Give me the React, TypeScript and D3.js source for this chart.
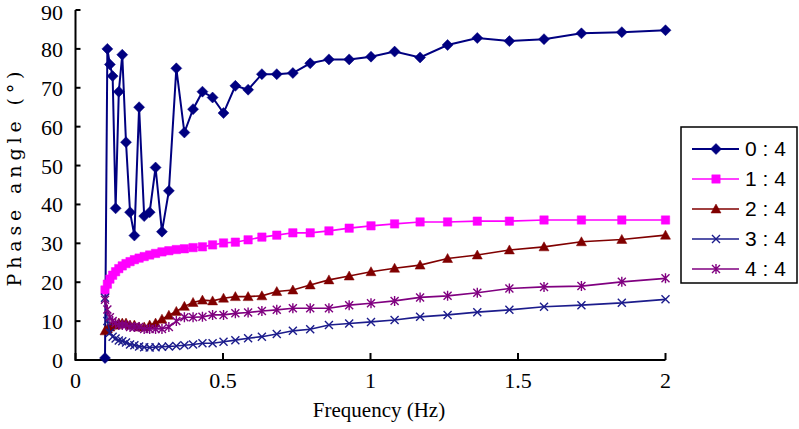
import React, { useEffect, useRef } from "react";
import * as d3 from "d3";

// frequency points (Hz), shared by every series
const freq = [0.1, 0.108, 0.1166, 0.1259, 0.136, 0.1468, 0.1585, 0.1712, 0.1849, 0.1996,
  0.2156, 0.2328, 0.2514, 0.2714, 0.2931, 0.3165, 0.3418, 0.3691, 0.3985, 0.4303,
  0.4647, 0.5018, 0.5419, 0.5851, 0.6318, 0.6823, 0.7368, 0.7956, 0.8591, 0.9277,
  1.0017, 1.0817, 1.1681, 1.2613, 1.362, 1.4708, 1.5882, 1.715, 1.8519, 2.0];

const ratio04 = [0.5, 80, 76, 73, 39, 69, 78.5, 56, 38, 32, 65, 37, 38, 49.5, 33, 43.5, 75, 58.5, 64.5, 69,
  67.5, 63.5, 70.5, 69.5, 73.5, 73.5, 73.8, 76.3, 77.3, 77.3, 78, 79.3, 77.8, 81, 82.8, 82, 82.5, 84, 84.3, 84.8];
const ratio14 = [18, 19.5, 20.8, 21.8, 22.7, 23.5, 24.2, 24.8, 25.3, 25.8, 26.2, 26.6, 27, 27.4, 27.8, 28.1, 28.4, 28.6, 28.9, 29.1,
  29.6, 30.1, 30.3, 30.9, 31.6, 32.1, 32.7, 32.7, 33.2, 33.9, 34.5, 35, 35.5, 35.5, 35.7, 35.7, 36, 36, 36, 36];
const ratio24 = [7.5, 8, 8.5, 9, 9, 9.5, 9.5, 9.5, 9, 9, 8.5, 8.5, 9, 9.5, 10.5, 11.5, 12.5, 13.8, 14.8, 15.4,
  15.2, 15.9, 16.3, 16.3, 16.5, 17.6, 18, 19.3, 20.6, 21.6, 22.7, 23.6, 24.4, 26.1, 27, 28.3, 29.1, 30.4, 31, 32.1];
const ratio34 = [16, 10, 7, 6, 5.5, 5, 4.8, 4.5, 4, 3.8, 3.5, 3.3, 3.2, 3.3, 3.4, 3.5, 3.6, 3.8, 4, 4.3,
  4.3, 4.7, 5.1, 5.6, 6, 6.7, 7.5, 7.9, 9, 9.4, 9.8, 10.3, 11.1, 11.6, 12.3, 12.9, 13.7, 14.1, 14.7, 15.6];
const ratio44 = [15.5, 13, 11, 10, 9.5, 9, 9, 9, 8.5, 8.5, 8.5, 8, 8, 8, 8, 8.5, 10, 11, 11, 11.1,
  11.6, 11.6, 12, 12.2, 12.6, 12.9, 13.3, 13.3, 13.3, 14.1, 14.6, 15.2, 16.1, 16.5, 17.3, 18.4, 18.8, 19, 20.1, 21];

const seriesNames = ["0 : 4", "1 : 4", "2 : 4", "3 : 4", "4 : 4"];
const seriesValues = [ratio04, ratio14, ratio24, ratio34, ratio44];
const seriesColors = ["#000080", "#ff00ff", "#800000", "#1c1c8c", "#800080"];
const seriesMarkers = ["diamond", "square", "triangle", "x", "star"];

const xTicks = [0, 0.5, 1, 1.5, 2];
const yTicks = [0, 10, 20, 30, 40, 50, 60, 70, 80, 90];

// marker path for each kind, centred at 0,0
function markerPath(kind) {
  if (kind === "diamond") return "M0,-5.5L5.5,0L0,5.5L-5.5,0Z";
  if (kind === "square") return "M-4.2,-4.2H4.2V4.2H-4.2Z";
  if (kind === "triangle") return "M0,-5L5,4L-5,4Z";
  if (kind === "x") return "M-4,-4L4,4M-4,4L4,-4";
  return "M-4,-4L4,4M-4,4L4,-4M0,-5V5";
}

export default function App() {
  const ref = useRef(null);

  useEffect(() => {
    document.body.style.margin = "0";
    var svg = d3.select(ref.current);
    svg.selectAll("*").remove();

    var x = d3.scaleLinear().domain([0, 2]).range([75.5, 665.5]);
    var y = d3.scaleLinear().domain([0, 90]).range([360, 10]);

    // axes
    var axes = svg.append("g").attr("stroke", "#000").attr("stroke-width", 2).attr("fill", "none");
    axes.append("path").attr("d", "M" + x(0) + "," + y(90) + "V" + y(0) + "H" + x(2));
    yTicks.forEach(function (t) {
      axes.append("line").attr("x1", x(0)).attr("x2", x(0) + 5).attr("y1", y(t)).attr("y2", y(t));
    });
    xTicks.forEach(function (t) {
      axes.append("line").attr("x1", x(t)).attr("x2", x(t)).attr("y1", y(0)).attr("y2", y(0) - 7);
    });

    var tickFont = "'Liberation Serif', serif";
    // top label would run off the page, so keep its baseline low enough
    svg.selectAll("yLabels").data(yTicks).enter().append("text")
      .attr("x", 63).attr("y", function (d) { return Math.max(y(d) + 8, 20); })
      .attr("text-anchor", "end").attr("font-family", tickFont).attr("font-size", 22)
      .text(function (d) { return d; });
    svg.selectAll("xLabels").data(xTicks).enter().append("text")
      .attr("x", function (d) { return x(d); }).attr("y", 388)
      .attr("text-anchor", "middle").attr("font-family", tickFont).attr("font-size", 22)
      .text(function (d) { return d; });

    svg.append("text").attr("x", 379).attr("y", 417).attr("text-anchor", "middle")
      .attr("font-family", tickFont).attr("font-size", 21).text("Frequency (Hz)");
    svg.append("text").attr("transform", "translate(21,179) rotate(-90)").attr("text-anchor", "middle")
      .attr("font-family", "'DejaVu Serif', serif").attr("font-size", 19)
      .attr("textLength", 215).attr("lengthAdjust", "spacing").text("Phase angle (°)");

    var line = d3.line().x(function (d) { return x(d[0]); }).y(function (d) { return y(d[1]); });

    seriesValues.forEach(function (vals, i) {
      var pts = vals.map(function (v, j) { return [freq[j], v]; });
      var color = seriesColors[i];
      var kind = seriesMarkers[i];
      var g = svg.append("g");
      g.append("path").attr("d", line(pts)).attr("fill", "none").attr("stroke", color).attr("stroke-width", i === 0 ? 2 : 1.6);
      g.selectAll("m").data(pts).enter().append("path")
        .attr("transform", function (d) { return "translate(" + x(d[0]) + "," + y(d[1]) + ")"; })
        .attr("d", markerPath(kind))
        .attr("fill", kind === "x" || kind === "star" ? "none" : color)
        .attr("stroke", color).attr("stroke-width", kind === "x" || kind === "star" ? 1.4 : 0.5);
    });

    // legend
    var lg = svg.append("g");
    lg.append("rect").attr("x", 681).attr("y", 127).attr("width", 116).attr("height", 156)
      .attr("fill", "#fff").attr("stroke", "#000").attr("stroke-width", 1.5);
    seriesNames.forEach(function (name, i) {
      var cy = 149 + i * 30;
      var color = seriesColors[i];
      var kind = seriesMarkers[i];
      lg.append("line").attr("x1", 692).attr("x2", 739).attr("y1", cy).attr("y2", cy)
        .attr("stroke", color).attr("stroke-width", i === 0 ? 2 : 1.6);
      lg.append("path").attr("transform", "translate(716," + cy + ")").attr("d", markerPath(kind))
        .attr("fill", kind === "x" || kind === "star" ? "none" : color)
        .attr("stroke", color).attr("stroke-width", kind === "x" || kind === "star" ? 1.4 : 0.5);
      lg.append("text").attr("x", 745).attr("y", cy + 7).attr("font-family", "'Liberation Sans', Arial, sans-serif")
        .attr("font-size", 21).text(name);
    });
  }, []);

  return <svg ref={ref} width={799} height={429} style={{ display: "block", background: "#fff" }}></svg>;
}
